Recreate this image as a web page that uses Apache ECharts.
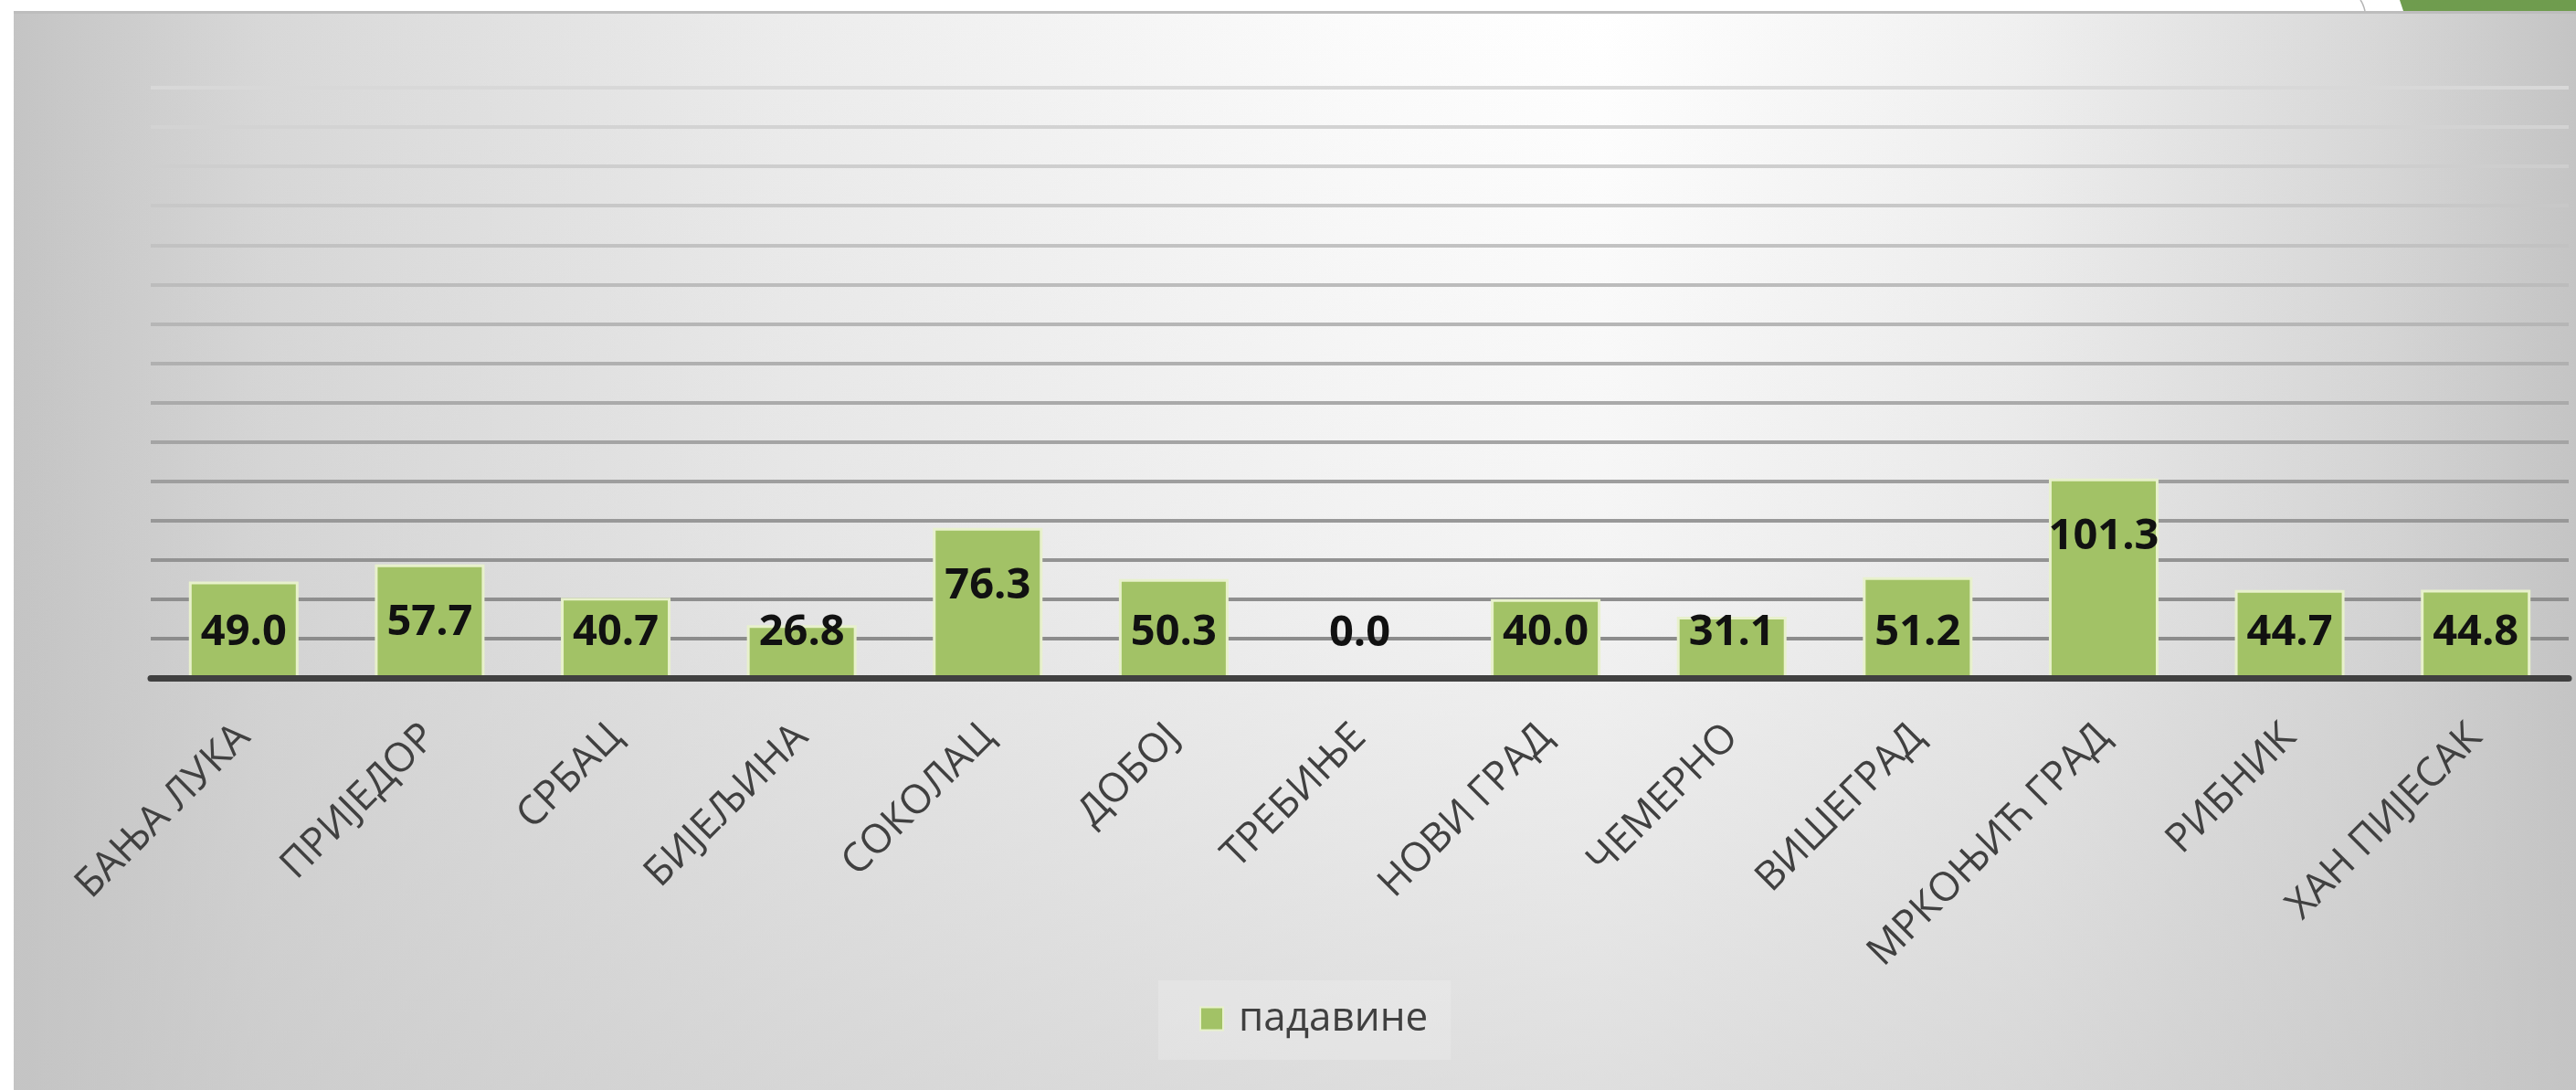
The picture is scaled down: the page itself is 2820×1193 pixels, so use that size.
<!DOCTYPE html>
<html>
<head>
<meta charset="utf-8">
<script src="https://cdn.jsdelivr.net/npm/echarts@6/dist/echarts.min.js"></script>
<style>
  html, body { margin: 0; padding: 0; background: #ffffff; }
  #wrap { position: relative; width: 2820px; height: 1193px; overflow: hidden; background: #ffffff; }
  #bg { position: absolute; left: 15px; top: 12px; width: 2805px; height: 1181px;
        background:
          linear-gradient(to bottom, rgba(196,196,196,0) 0%, rgba(196,196,196,0.18) 50%, rgba(196,196,196,0.55) 100%),
          linear-gradient(to right, #c4c4c4 0%, #d8d8d8 10%, #ececec 30%, #fbfbfb 52%, #ffffff 62%, #f0f0f0 78%, #d8d8d8 92%, #c4c4c4 100%);
        border-top: 3px solid #bdbdbd; box-sizing: border-box; }
  #chart { position: absolute; left: 0; top: 0; width: 2820px; height: 1193px; }
</style>
</head>
<body>
<div id="wrap">
  <div id="bg"></div>
  <div id="chart"></div>
</div>
<script>
// ---- data ----
const categories = ['БАЊА ЛУКА', 'ПРИЈЕДОР', 'СРБАЦ', 'БИЈЕЉИНА', 'СОКОЛАЦ', 'ДОБОЈ', 'ТРЕБИЊЕ',
                    'НОВИ ГРАД', 'ЧЕМЕРНО', 'ВИШЕГРАД', 'МРКОЊИЋ ГРАД', 'РИБНИК', 'ХАН ПИЈЕСАК'];
const values = [49.0, 57.7, 40.7, 26.8, 76.3, 50.3, 0.0, 40.0, 31.1, 51.2, 101.3, 44.7, 44.8];
const seriesName = 'падавине';
const yMin = 0, yMax = 300, yInterval = 20;

// ---- styles ----
const gridLineColors = ['#8c8c8c', '#8c8c8c', '#8f8f8f', '#939393', '#989898', '#9e9e9e', '#a4a4a4',
  '#aaaaaa', '#b0b0b0', '#b6b6b6', '#bcbcbc', '#c2c2c2', '#c8c8c8', '#cecece', '#d3d3d3', '#d8d8d8'];
const barColor = '#a2c266';

const chart = echarts.init(document.getElementById('chart'), null, { renderer: 'canvas', devicePixelRatio: 1 });

const seriesData = values.map(v => ({
  value: v,
  label: v > 52 ? { position: 'insideTop', distance: 40 } : { position: 'insideBottom', distance: 26 }
}));

chart.setOption({
  backgroundColor: 'transparent',
  animation: false,
  grid: { left: 165, right: 8, top: 96, bottom: 451, containLabel: false },
  legend: {
    data: [seriesName],
    left: 1268, top: 1073,
    padding: [20, 25, 23, 45],
    backgroundColor: 'rgba(255,255,255,0.18)',
    itemWidth: 25, itemHeight: 25,
    icon: 'rect',
    textStyle: { fontFamily: 'Open Sans', fontSize: 44, color: '#404040', padding: [0, 0, 0, 12] }
  },
  xAxis: {
    type: 'category',
    data: categories,
    z: 5,
    axisLine: { show: true, lineStyle: { color: '#404040', width: 7 } },
    axisTick: { show: false },
    axisLabel: {
      rotate: 45, margin: 58, interval: 0,
      fontFamily: 'Open Sans', fontSize: 44, color: '#404040'
    },
    splitLine: { show: false }
  },
  yAxis: {
    type: 'value',
    min: yMin, max: yMax, interval: yInterval,
    axisLine: { show: false },
    axisTick: { show: false },
    axisLabel: { show: false },
    splitLine: { show: true, lineStyle: { color: gridLineColors, width: 4 } }
  },
  series: [{
    name: seriesName,
    type: 'bar',
    data: seriesData,
    barWidth: 120,
    itemStyle: { color: barColor, borderColor: '#e8f1cc', borderWidth: 3 },
    label: {
      show: true,
      fontFamily: 'Open Sans', fontWeight: 'bold', fontSize: 47, color: '#111111',
      formatter: p => p.value.toFixed(1)
    }
  }],
  graphic: {
    elements: [
      { type: 'polygon', shape: { points: [[2627, 0], [2820, 0], [2820, 12], [2631, 12]] },
        style: { fill: '#6f9c4e' }, z: 100 },
      { type: 'bezierCurve', shape: { x1: 2584, y1: 0, x2: 2589, y2: 12, cpx1: 2587, cpy1: 4 },
        style: { stroke: '#b4b4b4', lineWidth: 1.5, fill: null }, z: 100 }
    ]
  }
});
</script>
</body>
</html>
